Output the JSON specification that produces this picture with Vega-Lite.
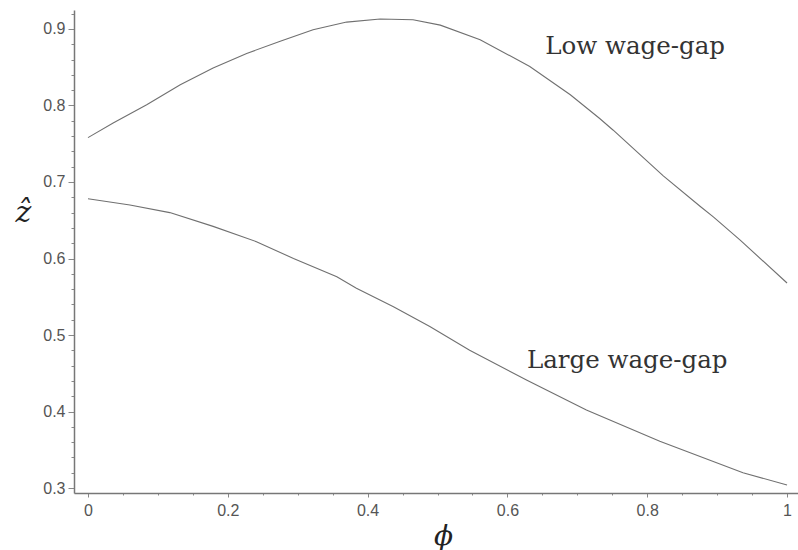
{
  "$schema": "https://vega.github.io/schema/vega-lite/v6.json",
  "width": 724,
  "height": 483,
  "autosize": "none",
  "padding": {"left": 74, "top": 10, "right": 0, "bottom": 57},
  "background": "white",
  "config": {"view": {"stroke": null}},
  "datasets": {
    "curves": [
      {"phi": 0.0, "z": 0.758, "gap": "Low"},
      {"phi": 0.036, "z": 0.777, "gap": "Low"},
      {"phi": 0.084, "z": 0.801, "gap": "Low"},
      {"phi": 0.132, "z": 0.827, "gap": "Low"},
      {"phi": 0.179, "z": 0.849, "gap": "Low"},
      {"phi": 0.227, "z": 0.868, "gap": "Low"},
      {"phi": 0.275, "z": 0.884, "gap": "Low"},
      {"phi": 0.322, "z": 0.899, "gap": "Low"},
      {"phi": 0.37, "z": 0.909, "gap": "Low"},
      {"phi": 0.418, "z": 0.913, "gap": "Low"},
      {"phi": 0.465, "z": 0.912, "gap": "Low"},
      {"phi": 0.504, "z": 0.905, "gap": "Low"},
      {"phi": 0.561, "z": 0.886, "gap": "Low"},
      {"phi": 0.632, "z": 0.851, "gap": "Low"},
      {"phi": 0.69, "z": 0.814, "gap": "Low"},
      {"phi": 0.732, "z": 0.783, "gap": "Low"},
      {"phi": 0.751, "z": 0.768, "gap": "Low"},
      {"phi": 0.823, "z": 0.708, "gap": "Low"},
      {"phi": 0.876, "z": 0.668, "gap": "Low"},
      {"phi": 0.895, "z": 0.654, "gap": "Low"},
      {"phi": 0.933, "z": 0.624, "gap": "Low"},
      {"phi": 1.0, "z": 0.568, "gap": "Low"},
      {"phi": 0.0, "z": 0.678, "gap": "Large"},
      {"phi": 0.06, "z": 0.67, "gap": "Large"},
      {"phi": 0.117, "z": 0.66, "gap": "Large"},
      {"phi": 0.179, "z": 0.642, "gap": "Large"},
      {"phi": 0.241, "z": 0.622, "gap": "Large"},
      {"phi": 0.294, "z": 0.6, "gap": "Large"},
      {"phi": 0.356, "z": 0.576, "gap": "Large"},
      {"phi": 0.384, "z": 0.561, "gap": "Large"},
      {"phi": 0.437, "z": 0.537, "gap": "Large"},
      {"phi": 0.489, "z": 0.511, "gap": "Large"},
      {"phi": 0.546, "z": 0.48, "gap": "Large"},
      {"phi": 0.628, "z": 0.441, "gap": "Large"},
      {"phi": 0.713, "z": 0.402, "gap": "Large"},
      {"phi": 0.818, "z": 0.361, "gap": "Large"},
      {"phi": 0.937, "z": 0.32, "gap": "Large"},
      {"phi": 1.0, "z": 0.304, "gap": "Large"}
    ],
    "labels": [
      {"phi": 0.654, "z": 0.867, "text": "Low wage-gap"},
      {"phi": 0.628, "z": 0.457, "text": "Large wage-gap"}
    ]
  },
  "encoding": {
    "x": {
      "field": "phi",
      "type": "quantitative",
      "scale": {"domain": [-0.02, 1.0157], "nice": false, "zero": false},
      "axis": {
        "title": "ϕ",
        "titleFont": "DejaVu Serif",
        "titleFontStyle": "italic",
        "titleFontWeight": "normal",
        "titleFontSize": 28,
        "titleColor": "#222",
        "titleX": 369,
        "titleY": 43,
        "titleBaseline": "middle",
        "titleAlign": "center",
        "values": [0, 0.05, 0.1, 0.15, 0.2, 0.25, 0.3, 0.35, 0.4, 0.45, 0.5, 0.55, 0.6, 0.65, 0.7, 0.75, 0.8, 0.85, 0.9, 0.95, 1],
        "labelExpr": "abs(datum.value*5 - round(datum.value*5)) < 0.000001 ? format(datum.value, '.1~f') : ''",
        "labelOverlap": false,
        "labelFlush": false,
        "labelFont": "Liberation Sans",
        "labelFontSize": 16,
        "labelColor": "#555",
        "labelPadding": 5,
        "tickSize": {"condition": {"test": "abs(datum.value*5 - round(datum.value*5)) < 0.000001", "value": 4}, "value": 2},
        "tickColor": "#888",
        "domainColor": "#777",
        "domainWidth": 1.5,
        "grid": false
      }
    },
    "y": {
      "field": "z",
      "type": "quantitative",
      "scale": {"domain": [0.2935, 0.9248], "nice": false, "zero": false},
      "axis": {
        "title": "ẑ",
        "titleFont": "DejaVu Serif",
        "titleFontStyle": "italic",
        "titleFontWeight": "normal",
        "titleFontSize": 30,
        "titleColor": "#222",
        "titleAngle": 0,
        "titleX": -51,
        "titleY": 202,
        "titleBaseline": "middle",
        "titleAlign": "center",
        "values": [0.3, 0.32, 0.34, 0.36, 0.38, 0.4, 0.42, 0.44, 0.46, 0.48, 0.5, 0.52, 0.54, 0.56, 0.58, 0.6, 0.62, 0.64, 0.66, 0.68, 0.7, 0.72, 0.74, 0.76, 0.78, 0.8, 0.82, 0.84, 0.86, 0.88, 0.9, 0.92],
        "labelExpr": "abs(datum.value*10 - round(datum.value*10)) < 0.000001 ? format(datum.value, '.1f') : ''",
        "labelOverlap": false,
        "labelFlush": false,
        "labelFont": "Liberation Sans",
        "labelFontSize": 16,
        "labelColor": "#555",
        "labelPadding": 3,
        "tickSize": {"condition": {"test": "abs(datum.value*10 - round(datum.value*10)) < 0.000001", "value": 6}, "value": 3},
        "tickColor": "#888",
        "domainColor": "#777",
        "domainWidth": 1.5,
        "grid": false
      }
    }
  },
  "layer": [
    {
      "data": {"name": "curves"},
      "mark": {"type": "line", "color": "#707070", "strokeWidth": 1.1},
      "encoding": {"detail": {"field": "gap", "type": "nominal"}}
    },
    {
      "data": {"name": "labels"},
      "mark": {"type": "text", "align": "left", "baseline": "alphabetic", "font": "DejaVu Serif", "fontSize": 24.5, "color": "#333"},
      "encoding": {"text": {"field": "text", "type": "nominal"}}
    }
  ]
}
